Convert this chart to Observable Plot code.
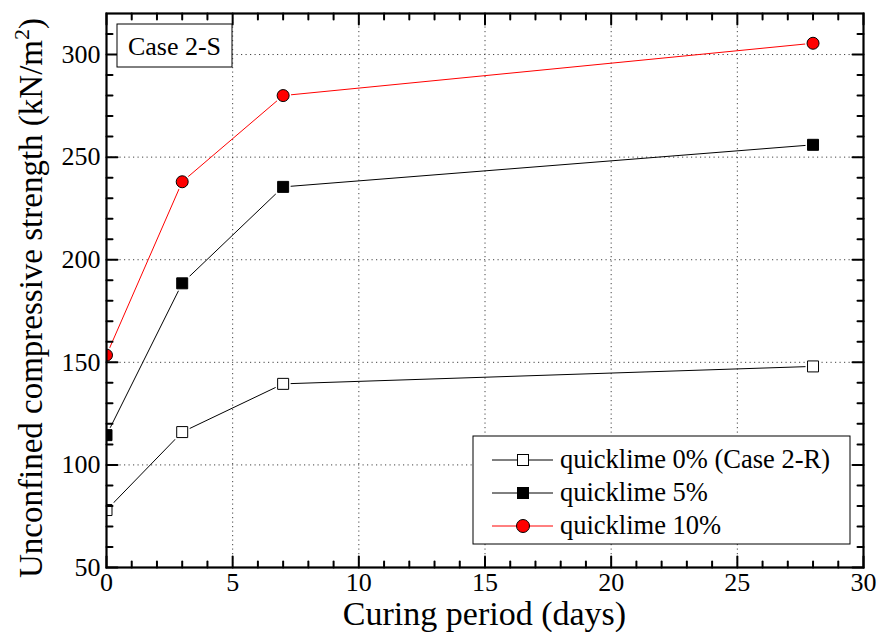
<!DOCTYPE html>
<html><head><meta charset="utf-8">
<script src="https://cdn.jsdelivr.net/npm/d3@7"></script>
<script src="https://cdn.jsdelivr.net/npm/@observablehq/plot@0.6"></script>
<style>html,body{margin:0;padding:0;background:#fff}svg{display:block}</style>
</head><body><div id="chart"></div>
<script>
// ---- data ----
const days = [0, 3, 7, 28];
const q0 = [78, 116, 139.5, 148];
const q5 = [114.5, 188.5, 235.5, 256];
const q10 = [153.5, 238, 280, 305.5];
const seriesNames = ["quicklime 0% (Case 2-R)", "quicklime 5%", "quicklime 10%"];
const seriesColors = ["#000000", "#000000", "#ff0000"];
const seriesFills = ["#ffffff", "#000000", "#ff0000"];
const seriesSymbols = ["square", "square", "circle"];
const xTicks = [0, 5, 10, 15, 20, 25, 30];
const yTicks = [50, 100, 150, 200, 250, 300];
const xGrid = [5, 10, 15, 20, 25];
const yGrid = [100, 150, 200, 250, 300];
const xMinor = d3.range(1, 30, 1).filter(d => d % 5 !== 0);
const yMinor = d3.range(60, 320, 10).filter(d => d % 50 !== 0);
const xDomain = [0, 30];
const yDomain = [50, 320];
const caseLabel = "Case 2-S";
const xTitle = "Curing period (days)";
const yTitle = "Unconfined compressive strength (kN/m";

(function () {
const allSeries = [q0, q5, q10];
const rows = [];
allSeries.forEach((vals, i) => days.forEach((d, j) => rows.push({series: seriesNames[i], idx: i, day: d, value: vals[j]})));
const squares = rows.filter(d => seriesSymbols[d.idx] === "square");
const circles = rows.filter(d => seriesSymbols[d.idx] === "circle");

const tickShape = {draw(context, l) { context.moveTo(0, 0); context.lineTo(0, -l); }};
const FONT = "Liberation Serif, Times New Roman, serif";

function ticks(data, dim, anchor, rotate, len) {
  return Plot.vector(data, {[dim]: d => d, frameAnchor: anchor, rotate, length: len, anchor: "start", shape: tickShape, stroke: "#000", strokeWidth: 2});
}

const W = 879, H = 632;
const plot = Plot.plot({
  width: W, height: H,
  marginLeft: 106, marginRight: 16, marginTop: 13, marginBottom: 65,
  style: {fontFamily: FONT, fontSize: "26px", background: "#fff", color: "#000"},
  x: {domain: xDomain},
  y: {domain: yDomain},
  marks: [
    Plot.ruleX(xGrid, {x: d => d, stroke: "#444", strokeDasharray: "1.2,3.3", strokeWidth: 1}),
    Plot.ruleY(yGrid, {y: d => d, stroke: "#444", strokeDasharray: "1.2,3.3", strokeWidth: 1}),
    Plot.line(rows, {x: "day", y: "value", z: "series", stroke: d => seriesColors[d.idx], strokeWidth: 1, clip: true}),
    Plot.dot(squares, {x: "day", y: "value", symbol: "square", r: 6.2, fill: "#fff", stroke: "#fff", strokeWidth: 4, clip: true}),
    Plot.dot(circles, {x: "day", y: "value", symbol: "circle", r: 6, fill: "#fff", stroke: "#fff", strokeWidth: 4, clip: true}),
    Plot.dot(squares, {x: "day", y: "value", symbol: "square", r: 6.2, fill: d => seriesFills[d.idx], stroke: "#000", strokeWidth: 1, clip: true}),
    Plot.dot(circles, {x: "day", y: "value", symbol: "circle", r: 6, fill: d => seriesFills[d.idx], stroke: "#000", strokeWidth: 1, clip: true}),
    ticks(yTicks, "y", "left", 90, 11),
    ticks(yMinor, "y", "left", 90, 6),
    ticks(yTicks, "y", "right", 270, 11),
    ticks(yMinor, "y", "right", 270, 6),
    ticks(xTicks, "x", "bottom", 0, 11),
    ticks(xMinor, "x", "bottom", 0, 6),
    ticks(xTicks, "x", "top", 180, 11),
    ticks(xMinor, "x", "top", 180, 6),
    Plot.axisX({ticks: xTicks, tickSize: 0, tickPadding: 5, label: null, fontSize: 26, fontFamily: FONT}),
    Plot.axisY({ticks: yTicks, tickSize: 0, tickPadding: 6, label: null, fontSize: 26, fontFamily: FONT}),
    Plot.frame({stroke: "#000", strokeWidth: 2.2})
  ]
});
document.getElementById("chart").appendChild(plot);

const svg = d3.select(plot);
const sx = plot.scale("x"), sy = plot.scale("y");
const pLeft = sx.apply(xDomain[0]), pRight = sx.apply(xDomain[1]);
const pTop = sy.apply(yDomain[1]), pBottom = sy.apply(yDomain[0]);

function txt(sel) { return sel.style("font-family", FONT).attr("fill", "#000"); }

txt(svg.append("text")).attr("x", (pLeft + pRight) / 2).attr("y", 625)
  .attr("text-anchor", "middle").style("font-size", "34px").text(xTitle);
const yt = txt(svg.append("text")).attr("transform", `translate(42,${(pTop + pBottom) / 2 + 8}) rotate(-90)`)
  .attr("text-anchor", "middle").style("font-size", "33px");
yt.append("tspan").text(yTitle);
yt.append("tspan").attr("dy", -13).style("font-size", "22px").text("2");
yt.append("tspan").attr("dy", 13).text(")");

const cg = svg.append("g");
cg.append("rect").attr("x", pLeft + 11).attr("y", pTop + 11).attr("width", 115).attr("height", 43)
  .attr("fill", "#fff").attr("stroke", "#000").attr("stroke-width", 1);
txt(cg.append("text")).attr("x", pLeft + 68.5).attr("y", pTop + 42).attr("text-anchor", "middle")
  .style("font-size", "26px").text(caseLabel);

const lg = svg.append("g");
const lx = 473, ly = 436, lw = 377, lh = 108;
lg.append("rect").attr("x", lx).attr("y", ly).attr("width", lw).attr("height", lh)
  .attr("fill", "#fff").attr("stroke", "#000").attr("stroke-width", 1);
seriesNames.forEach((name, i) => {
  const yy = ly + 24 + i * 33;
  lg.append("line").attr("x1", lx + 19).attr("x2", lx + 80).attr("y1", yy).attr("y2", yy)
    .attr("stroke", seriesColors[i]).attr("stroke-width", 1);
  if (seriesSymbols[i] === "circle") {
    lg.append("circle").attr("cx", lx + 50).attr("cy", yy).attr("r", 6.5).attr("fill", seriesFills[i]).attr("stroke", "#000").attr("stroke-width", 1);
  } else {
    lg.append("rect").attr("x", lx + 44.5).attr("y", yy - 5.5).attr("width", 11).attr("height", 11)
      .attr("fill", seriesFills[i]).attr("stroke", "#000").attr("stroke-width", 1);
  }
  txt(lg.append("text")).attr("x", lx + 87).attr("y", yy + 8).attr("text-anchor", "start")
    .style("font-size", "26.5px").text(name);
});
})();
</script>
</body></html>
